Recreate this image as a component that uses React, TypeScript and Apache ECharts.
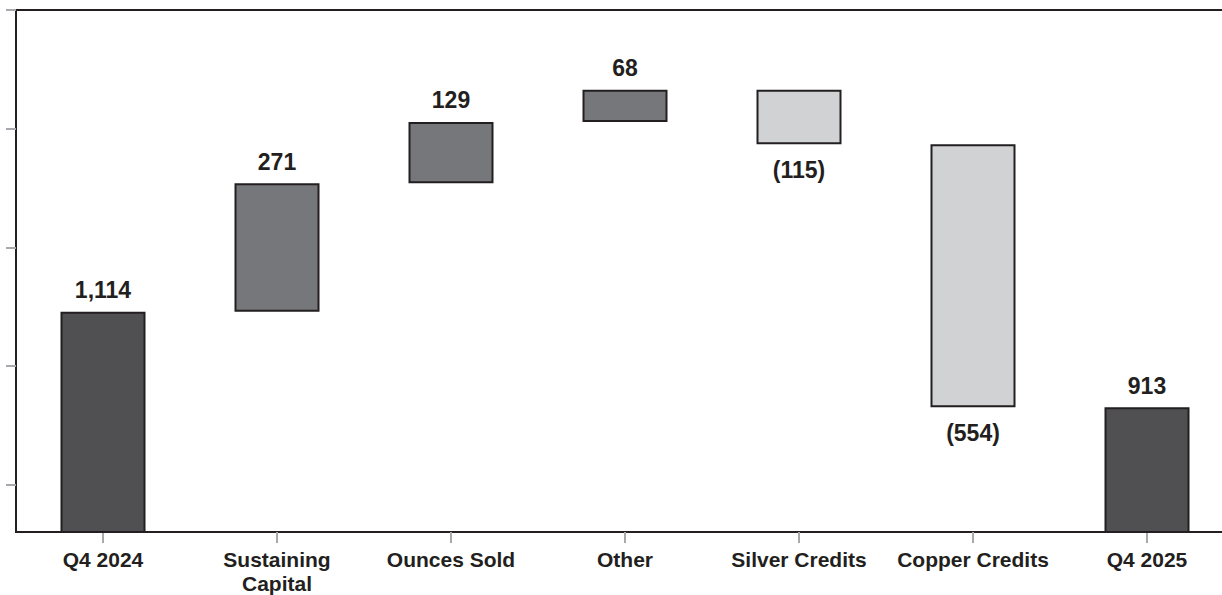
import React, { useEffect, useRef } from "react";
import * as echarts from "echarts";

// Waterfall from Q4 2024 to Q4 2025
const categories = [
  "Q4 2024",
  "Sustaining\nCapital",
  "Ounces Sold",
  "Other",
  "Silver Credits",
  "Copper Credits",
  "Q4 2025",
];
// Signed change for each step; totals are flagged separately
const changes = [1114, 271, 129, 68, -115, -554, 913];
const isTotal = [true, false, false, false, false, false, true];
const valueLabels = ["1,114", "271", "129", "68", "(115)", "(554)", "913"];
const yTicks = [750, 1000, 1250, 1500, 1750];

const COLOR_TOTAL = "#505052";
const COLOR_UP = "#76777a";
const COLOR_DOWN = "#d1d2d4";
const INK = "#231f20";
const TICK = "#a7a9ac";

export default function App() {
  const ref = useRef<HTMLDivElement>(null);

  useEffect(() => {
    if (!ref.current) return;
    const chart = echarts.init(ref.current, null, { renderer: "svg" });

    // invisible base + visible segment for each step
    const base: number[] = [];
    const seg: any[] = [];
    let running = 0;
    changes.forEach((c, i) => {
      if (isTotal[i]) {
        base.push(0);
        running = c;
        seg.push({
          value: c,
          itemStyle: { color: COLOR_TOTAL },
          label: { position: "top", distance: 10, formatter: valueLabels[i] },
        });
      } else if (c >= 0) {
        base.push(running);
        running += c;
        seg.push({
          value: c,
          itemStyle: { color: COLOR_UP },
          label: { position: "top", distance: 10, formatter: valueLabels[i] },
        });
      } else {
        running += c;
        base.push(running);
        seg.push({
          value: -c,
          itemStyle: { color: COLOR_DOWN },
          label: { position: "bottom", distance: 14, formatter: valueLabels[i] },
        });
      }
    });

    chart.setOption({
      animation: false,
      grid: {
        left: 16,
        right: -12,
        top: 10,
        bottom: 63,
        containLabel: false,
        outerBoundsMode: "none",
        show: true,
        borderColor: INK,
        borderWidth: 2,
        backgroundColor: "transparent",
      },
      xAxis: {
        type: "category",
        data: categories,
        axisLine: { show: true, lineStyle: { color: INK, width: 2 } },
        axisTick: {
          show: true,
          alignWithLabel: true,
          length: 11,
          lineStyle: { color: TICK, width: 2 },
        },
        axisLabel: {
          color: INK,
          fontFamily: "Liberation Sans, Arial, sans-serif",
          fontWeight: "bold",
          fontSize: 21,
          lineHeight: 24,
          margin: 15,
          interval: 0,
        },
      },
      yAxis: {
        type: "value",
        min: 650,
        max: 1750,
        splitLine: { show: false },
        axisLine: { show: true, lineStyle: { color: INK, width: 2 } },
        axisTick: {
          show: true,
          length: 10,
          customValues: yTicks,
          lineStyle: { color: TICK, width: 2 },
        },
        axisLabel: { show: false },
      },
      series: [
        {
          type: "bar",
          stack: "wf",
          data: base,
          barWidth: 85,
          itemStyle: { color: "transparent" },
          silent: true,
          label: { show: false },
        },
        {
          type: "bar",
          stack: "wf",
          data: seg,
          barWidth: 85,
          itemStyle: { borderColor: INK, borderWidth: 2 },
          label: {
            show: true,
            color: INK,
            fontFamily: "Liberation Sans, Arial, sans-serif",
            fontWeight: "bold",
            fontSize: 23,
          },
        },
      ],
    });

    return () => chart.dispose();
  }, []);

  return (
    <div
      ref={ref}
      style={{ position: "absolute", left: 0, top: 0, width: 1222, height: 595 }}
    />
  );
}
